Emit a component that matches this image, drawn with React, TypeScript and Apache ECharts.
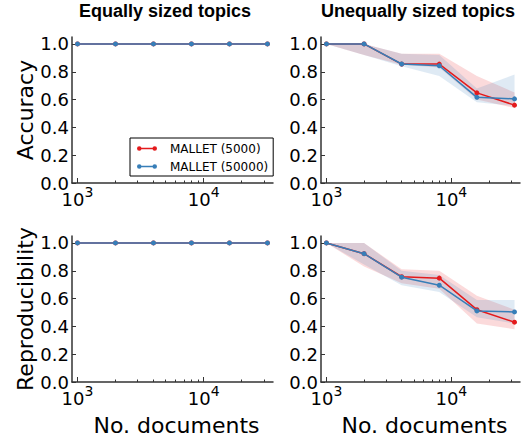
import React, { useEffect, useRef } from "react";
import * as echarts from "echarts";

const DOCS = [1000, 2000, 4000, 8000, 16000, 32000];
const MAJOR_TICKS = [1000, 10000];
const MINOR_TICKS = [2000, 3000, 4000, 5000, 6000, 7000, 8000, 9000, 20000, 30000];
const Y_TICKS = [0, 0.2, 0.4, 0.6, 0.8, 1.0];
const SERIES_NAMES = ["MALLET (5000)", "MALLET (50000)"];
const PANEL_TITLES = ["Equally sized topics", "Unequally sized topics"];
const ROW_NAMES = ["Accuracy", "Reproducibility"];
const X_NAME = "No. documents";

// Equally sized topics
const ACC_EQ_5000 = [1.0, 1.0, 1.0, 1.0, 1.0, 1.0];
const ACC_EQ_50000 = [1.0, 1.0, 1.0, 1.0, 1.0, 1.0];
const REP_EQ_5000 = [1.0, 1.0, 1.0, 1.0, 1.0, 1.0];
const REP_EQ_50000 = [1.0, 1.0, 1.0, 1.0, 1.0, 1.0];

// Unequally sized topics - accuracy
const ACC_UNEQ_5000 = [1.0, 1.0, 0.855, 0.855, 0.648, 0.56];
const ACC_UNEQ_5000_LO = [1.0, 0.92, 0.85, 0.83, 0.6, 0.54];
const ACC_UNEQ_5000_HI = [1.0, 1.0, 0.93, 0.93, 0.77, 0.65];
const ACC_UNEQ_50000 = [1.0, 1.0, 0.856, 0.843, 0.616, 0.605];
const ACC_UNEQ_50000_LO = [1.0, 0.92, 0.84, 0.77, 0.58, 0.555];
const ACC_UNEQ_50000_HI = [1.0, 1.0, 0.93, 0.92, 0.68, 0.78];

// Unequally sized topics - reproducibility
const REP_UNEQ_5000 = [1.0, 0.923, 0.757, 0.747, 0.52, 0.43];
const REP_UNEQ_5000_LO = [1.0, 0.83, 0.71, 0.67, 0.42, 0.38];
const REP_UNEQ_5000_HI = [1.0, 1.0, 0.81, 0.8, 0.62, 0.52];
const REP_UNEQ_50000 = [1.0, 0.923, 0.754, 0.696, 0.511, 0.504];
const REP_UNEQ_50000_LO = [1.0, 0.845, 0.695, 0.647, 0.465, 0.42];
const REP_UNEQ_50000_HI = [1.0, 1.0, 0.8, 0.77, 0.59, 0.59];

const RED = "#e41a1c";
const BLUE = "#377eb8";
const RED_BAND = "rgba(228,26,28,0.16)";
const BLUE_BAND = "rgba(55,126,184,0.16)";

const ICON =
  "path://M0,2.5a2.5,2.5 0 1,0 5,0a2.5,2.5 0 1,0 -5,0Z M17,2.5a2.5,2.5 0 1,0 5,0a2.5,2.5 0 1,0 -5,0Z M2.5,1.8L2.5,3.2L19.5,3.2L19.5,1.8Z";

const GRIDS = [
  { left: 72, top: 37, width: 201, height: 146 },
  { left: 321, top: 37, width: 199, height: 146 },
  { left: 72, top: 236, width: 201, height: 146 },
  { left: 321, top: 236, width: 199, height: 146 },
];

const X_MIN = 905;
const X_MAX = 35400;
const AXIS_COLOR = "#333";
const TICK_FONT = "DejaVu Sans";
const TITLE_FONT = "bold 18px 'Liberation Sans', Arial, sans-serif";

function pairs(ys: number[]) {
  return DOCS.map((x, i) => [x, ys[i]]);
}

function bandSeries(grid: number, lo: number[], hi: number[], fill: string, z: number) {
  return {
    type: "custom",
    name: "band",
    xAxisIndex: grid * 2,
    yAxisIndex: grid,
    z,
    silent: true,
    data: DOCS.map((x, i) => [x, lo[i], hi[i]]),
    encode: { x: 0, y: [1, 2] },
    renderItem: (params: any, api: any) => {
      if (params.dataIndex !== 0) return null;
      const top = DOCS.map((x, i) => api.coord([x, hi[i]]));
      const bottom = DOCS.map((x, i) => api.coord([x, lo[i]])).reverse();
      return {
        type: "polygon",
        shape: { points: top.concat(bottom) },
        style: { fill, stroke: null },
      };
    },
  };
}

function lineSeries(grid: number, name: string, ys: number[], color: string, z: number) {
  return {
    type: "line",
    name,
    xAxisIndex: grid * 2,
    yAxisIndex: grid,
    data: pairs(ys),
    symbol: "circle",
    symbolSize: 5,
    showSymbol: true,
    z,
    lineStyle: { color, width: 1.5 },
    itemStyle: { color },
  };
}

export default function App() {
  const ref = useRef<HTMLDivElement>(null);

  useEffect(() => {
    if (!ref.current) return;
    const chart = echarts.init(ref.current, null, { renderer: "svg" });

    const xAxes: any[] = [];
    const yAxes: any[] = [];
    GRIDS.forEach((_, g) => {
      const bottomRow = g >= 2;
      xAxes.push({
        type: "log",
        logBase: 10,
        gridIndex: g,
        min: X_MIN,
        max: X_MAX,
        position: "bottom",
        name: bottomRow ? X_NAME : "",
        nameLocation: "middle",
        nameGap: 32,
        nameTextStyle: {
          fontFamily: TICK_FONT,
          fontSize: 22,
          color: "#000",
          padding: [0, 0, 0, 8],
        },
        axisLine: { show: true, lineStyle: { color: AXIS_COLOR, width: 1.5 } },
        axisTick: {
          show: true,
          inside: true,
          length: 5,
          customValues: MAJOR_TICKS,
          lineStyle: { color: AXIS_COLOR, width: 1 },
        },
        axisLabel: {
          show: true,
          margin: 5,
          customValues: MAJOR_TICKS,
          formatter: (v: number) => {
            const e = Math.round(Math.log10(v));
            return `{b|10}{s|${e}}`;
          },
          rich: {
            b: {
              fontFamily: TICK_FONT,
              fontSize: 18,
              lineHeight: 20,
              color: "#000",
              verticalAlign: "bottom",
            },
            s: {
              fontFamily: TICK_FONT,
              fontSize: 14,
              lineHeight: 14,
              color: "#000",
              verticalAlign: "bottom",
              padding: [0, 0, 9, 0],
            },
          },
        },
        splitLine: { show: false },
      });
      xAxes.push({
        type: "log",
        logBase: 10,
        gridIndex: g,
        min: X_MIN,
        max: X_MAX,
        position: "bottom",
        axisLine: { show: false },
        axisTick: {
          show: true,
          inside: true,
          length: 2.5,
          customValues: MINOR_TICKS,
          lineStyle: { color: AXIS_COLOR, width: 1 },
        },
        axisLabel: { show: false },
        splitLine: { show: false },
      });
      const leftCol = g % 2 === 0;
      yAxes.push({
        type: "value",
        gridIndex: g,
        min: 0,
        max: 1.05,
        name: leftCol ? ROW_NAMES[g >= 2 ? 1 : 0] : "",
        nameLocation: "middle",
        nameGap: 36,
        nameTextStyle: { fontFamily: TICK_FONT, fontSize: 22, color: "#000" },
        axisLine: { show: true, lineStyle: { color: AXIS_COLOR, width: 1.5 } },
        axisTick: {
          show: true,
          inside: true,
          length: 4,
          customValues: Y_TICKS,
          lineStyle: { color: AXIS_COLOR, width: 1 },
        },
        axisLabel: {
          show: true,
          margin: 3,
          customValues: Y_TICKS,
          formatter: (v: number) => v.toFixed(1),
          fontFamily: TICK_FONT,
          fontSize: 18,
          color: "#000",
        },
        splitLine: { show: false },
      });
    });

    const series: any[] = [
      // Equal, accuracy
      lineSeries(0, SERIES_NAMES[0], ACC_EQ_5000, RED, 3),
      lineSeries(0, SERIES_NAMES[1], ACC_EQ_50000, BLUE, 4),
      // Unequal, accuracy
      bandSeries(1, ACC_UNEQ_5000_LO, ACC_UNEQ_5000_HI, RED_BAND, 1),
      bandSeries(1, ACC_UNEQ_50000_LO, ACC_UNEQ_50000_HI, BLUE_BAND, 2),
      lineSeries(1, SERIES_NAMES[0], ACC_UNEQ_5000, RED, 3),
      lineSeries(1, SERIES_NAMES[1], ACC_UNEQ_50000, BLUE, 4),
      // Equal, reproducibility
      lineSeries(2, SERIES_NAMES[0], REP_EQ_5000, RED, 3),
      lineSeries(2, SERIES_NAMES[1], REP_EQ_50000, BLUE, 4),
      // Unequal, reproducibility
      bandSeries(3, REP_UNEQ_5000_LO, REP_UNEQ_5000_HI, RED_BAND, 1),
      bandSeries(3, REP_UNEQ_50000_LO, REP_UNEQ_50000_HI, BLUE_BAND, 2),
      lineSeries(3, SERIES_NAMES[0], REP_UNEQ_5000, RED, 3),
      lineSeries(3, SERIES_NAMES[1], REP_UNEQ_50000, BLUE, 4),
    ];

    chart.setOption({
      animation: false,
      backgroundColor: "#fff",
      grid: GRIDS,
      xAxis: xAxes,
      yAxis: yAxes,
      legend: {
        data: SERIES_NAMES,
        orient: "vertical",
        left: 130,
        top: 138,
        backgroundColor: "#fff",
        borderColor: "#000",
        borderWidth: 1,
        borderRadius: 0,
        padding: [4, 5, 3, 7],
        itemWidth: 20,
        itemHeight: 5,
        itemGap: 5,
        icon: ICON,
        selectedMode: false,
        z: 10,
        textStyle: {
          fontFamily: TICK_FONT,
          fontSize: 12,
          lineHeight: 13,
          color: "#000",
          padding: [0, 0, 0, 8],
        },
      },
      graphic: [
        {
          type: "text",
          x: 165,
          y: 2,
          style: {
            text: PANEL_TITLES[0],
            textAlign: "center",
            font: TITLE_FONT,
            fill: "#000",
          },
        },
        {
          type: "text",
          x: 418,
          y: 2,
          style: {
            text: PANEL_TITLES[1],
            textAlign: "center",
            font: TITLE_FONT,
            fill: "#000",
          },
        },
      ],
      series,
    });

    return () => chart.dispose();
  }, []);

  return (
    <div
      ref={ref}
      style={{ position: "fixed", left: 0, top: 0, width: 524, height: 442 }}
    />
  );
}
